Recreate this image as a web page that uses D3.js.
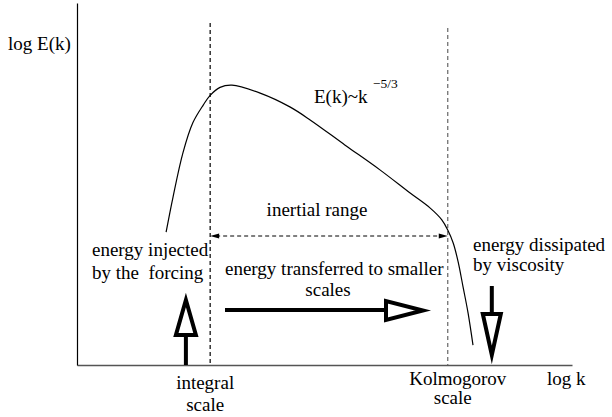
<!DOCTYPE html>
<html>
<head>
<meta charset="utf-8">
<script src="https://cdn.jsdelivr.net/npm/d3@7"></script>
<style>
  html, body { margin: 0; padding: 0; background: #fff; }
  svg text { font-family: "Liberation Serif", "Times New Roman", Times, "Noto Serif", "DejaVu Serif", serif; fill: #000; white-space: pre; }
</style>
</head>
<body>
<svg id="chart" width="612" height="417"></svg>
<script>
// ---- data (log k, log E) in arbitrary units ----
const curveLogK = [1.80, 1.94, 2.14, 2.34, 2.55, 2.69, 2.89, 3.13, 3.70, 4.30, 4.71, 5.41, 6.12, 6.73, 7.13, 7.37, 7.49, 7.60, 7.70, 7.80, 7.90, 8.00];
const curveLogE = [3.67, 4.64, 5.86, 6.69, 7.18, 7.45, 7.67, 7.73, 7.51, 7.13, 6.77, 6.08, 5.39, 4.75, 4.34, 4.01, 3.73, 3.37, 2.85, 2.15, 1.44, 0.55];
const scaleNames = ["integral", "Kolmogorov"];
const scaleLogK = [2.69, 7.49];
const injectionLogK = 2.20;
const dissipationLogK = 8.38;

const svg = d3.select("#chart");
const x = d3.scaleLinear().domain([0, 10]).range([77, 572]);
const y = d3.scaleLinear().domain([0, 10]).range([365, 3]);

// axes (no ticks)
svg.append("g").attr("transform", `translate(0,${y(0)})`)
  .call(d3.axisBottom(x).ticks(0).tickSizeOuter(0))
  .select(".domain").attr("stroke", "#555").attr("stroke-width", 1.3);
svg.append("g").attr("transform", `translate(${x(0)},0)`)
  .call(d3.axisLeft(y).ticks(0).tickSizeOuter(0))
  .select(".domain").attr("stroke", "#000").attr("stroke-width", 1.2);

// dashed scale lines
const dashTop = [23, 28];
const dashColor = ["#000", "#666"];
scaleLogK.forEach((k, i) => {
  svg.append("line")
    .attr("x1", x(k)).attr("x2", x(k))
    .attr("y1", dashTop[i]).attr("y2", y(0))
    .attr("stroke", dashColor[i]).attr("stroke-width", 1.2)
    .attr("stroke-dasharray", "4,3");
});

// spectrum curve
const pts = curveLogK.map((k, i) => [k, curveLogE[i]]);
svg.append("path")
  .datum(pts)
  .attr("d", d3.line().x(d => x(d[0])).y(d => y(d[1])).curve(d3.curveCatmullRom.alpha(0.5)))
  .attr("fill", "none").attr("stroke", "#000").attr("stroke-width", 1.2);

// inertial range double arrow
const yIn = 236;
const xa = x(scaleLogK[0]), xb = x(scaleLogK[1]);
svg.append("line").attr("x1", xa + 6).attr("x2", xb - 6).attr("y1", yIn).attr("y2", yIn)
  .attr("stroke", "#000").attr("stroke-width", 1).attr("stroke-dasharray", "4,3");
svg.append("path").attr("d", `M${xa},${yIn} L${xa + 9},${yIn - 2.5} L${xa + 9},${yIn + 2.5} Z`).attr("fill", "#000");
svg.append("path").attr("d", `M${xb},${yIn} L${xb - 9},${yIn - 2.5} L${xb - 9},${yIn + 2.5} Z`).attr("fill", "#000");

// thick hollow arrows
const arrowStyle = sel => sel.attr("fill", "#fff").attr("stroke", "#000").attr("stroke-width", 4)
  .attr("stroke-linejoin", "miter").attr("stroke-miterlimit", 12);

// injection (up)
const xi = x(injectionLogK);
svg.append("line").attr("x1", xi).attr("x2", xi).attr("y1", y(0)).attr("y2", 336)
  .attr("stroke", "#000").attr("stroke-width", 4);
svg.append("path").attr("d", `M${xi - 10},335 L${xi + 10},335 L${xi},300 Z`).call(arrowStyle);

// dissipation (down)
const xd = x(dissipationLogK);
svg.append("line").attr("x1", xd).attr("x2", xd).attr("y1", 286).attr("y2", 315)
  .attr("stroke", "#000").attr("stroke-width", 4);
svg.append("path").attr("d", `M${xd - 9},314 L${xd + 9},314 L${xd},355 Z`).call(arrowStyle);

// transfer (right)
svg.append("line").attr("x1", 225).attr("x2", 387).attr("y1", 310).attr("y2", 310)
  .attr("stroke", "#000").attr("stroke-width", 4);
svg.append("path").attr("d", `M386,301 L386,320 L423,310.5 Z`).call(arrowStyle);

// texts
const fs = "19px";
const T = (txt, tx, ty, anchor = "start", size = fs) =>
  svg.append("text").attr("x", tx).attr("y", ty).attr("text-anchor", anchor)
    .attr("font-family", "'Liberation Serif', 'Times New Roman', Times, 'Noto Serif', 'DejaVu Serif', serif")
    .style("font-size", size).text(txt);

T("log E(k)", 8, 50);
T("E(k)~k", 314, 103);
T("\u22125/3", 373, 88, "start", "13.5px");
T("inertial range", 317, 216, "middle");
T("energy injected", 92, 256);
T("by the  forcing", 92, 279);
T("energy transferred to smaller", 225, 275);
T("scales", 328, 296, "middle");
T("energy dissipated", 473, 251);
T("by viscosity", 473, 271);
T(scaleNames[0], x(scaleLogK[0]) - 5, 389, "middle");
T("scale", x(scaleLogK[0]) - 5, 411, "middle");
T(scaleNames[1], x(scaleLogK[1]) + 10, 385, "middle");
T("scale", x(scaleLogK[1]) + 5, 404, "middle");
T("log k", 547, 385);
</script>
</body>
</html>
